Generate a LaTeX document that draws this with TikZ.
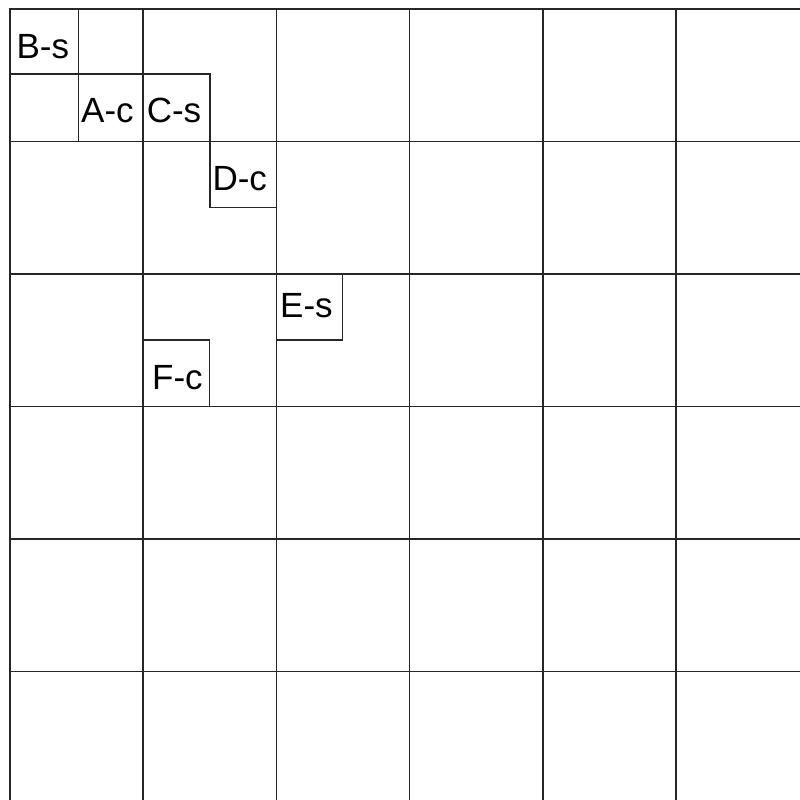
\documentclass[tikz,border=0pt]{standalone}
\usepackage{fontspec}
\setmainfont{Liberation Sans}
\begin{document}
\begin{tikzpicture}[x=1pt,y=-1pt,
  gridline/.style={draw=black!85,line width=1.7pt},
  cellbox/.style={draw=black!85,line width=1.2pt},
  celltext/.style={anchor=base west,inner sep=0pt,font=\fontsize{35}{40}\selectfont},
]
\useasboundingbox (0,0) rectangle (800,800);
\clip (0,0) rectangle (800,800);
% grid
\foreach \i in {0,...,5} {
  \draw[gridline] (10+133.2*\i,9) -- (10+133.2*\i,800);
  \draw[gridline] (10,9+132.5*\i) -- (800,9+132.5*\i);
}
% small boxes
\draw[cellbox] (10,9) rectangle (78.5,74);
\draw[cellbox] (78.5,74) rectangle (143.2,141.5);
\draw[cellbox] (143.2,74) rectangle (210,141.5);
\draw[cellbox] (210,141.5) rectangle (276.4,207.5);
\draw[cellbox] (276.4,274) rectangle (342.7,340);
\draw[cellbox] (143.2,340) rectangle (209.7,406.5);
% labels
\node[celltext] (bs) at (16.4,58.3) {B-s};
\node[celltext] (ac) at (81,122.7) {A-c};
\node[celltext] (cs) at (146.6,122.7) {C-s};
\node[celltext] (dc) at (212.3,190) {D-c};
\node[celltext] (es) at (280,317.3) {E-s};
\node[celltext] (fc) at (152,389.3) {F-c};
\end{tikzpicture}
\end{document}
